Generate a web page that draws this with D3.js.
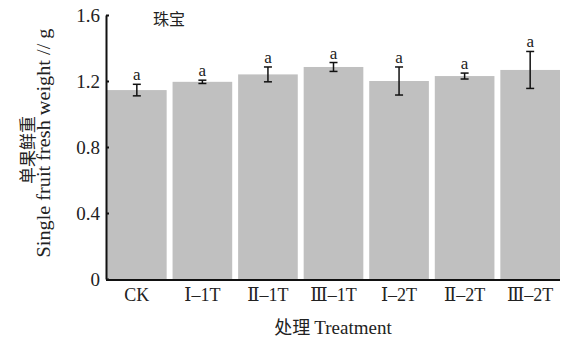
<!DOCTYPE html>
<html>
<head>
<meta charset="utf-8">
<script src="https://cdnjs.cloudflare.com/ajax/libs/d3/7.8.5/d3.min.js"></script>
<style>
  body { margin: 0; background: #fff; }
  text { fill: #222; }
</style>
</head>
<body>
<script>
//------------------------------------------------------------------------------
// Data
//------------------------------------------------------------------------------

var categories = ["CK", "\u2160\u20131T", "\u2161\u20131T", "\u2162\u20131T", "\u2160\u20132T", "\u2161\u20132T", "\u2162\u20132T"];
var means      = [1.145, 1.195, 1.24, 1.285, 1.20, 1.23, 1.267];
var errors     = [0.035, 0.010, 0.045, 0.027, 0.085, 0.018, 0.112];
var letters    = ["a", "a", "a", "a", "a", "a", "a"];
var yTicks     = [0, 0.4, 0.8, 1.2, 1.6];

//------------------------------------------------------------------------------
// Layout
//------------------------------------------------------------------------------

var width = 563, height = 339;
var margin = {left: 106, right: 3, top: 15, bottom: 59};
var serif = "'Liberation Serif', 'DejaVu Serif', serif";
var cjk = "'Noto Sans CJK SC', sans-serif";

var svg = d3.select("body").append("svg")
  .attr("width", width)
  .attr("height", height);

var x = d3.scaleBand()
  .domain(categories)
  .range([margin.left + 1, width - margin.right])
  .paddingInner(0.09)
  .paddingOuter(0);

var y = d3.scaleLinear()
  .domain([0, 1.6])
  .range([height - margin.bottom - 1, margin.top]);

var g = svg.append("g");

// Bars
g.selectAll(".bar")
  .data(means)
  .enter().append("rect")
    .attr("class", "bar")
    .attr("x", function(d, i) { return x(categories[i]); })
    .attr("y", function(d) { return y(d); })
    .attr("width", x.bandwidth())
    .attr("height", function(d) { return y(0) - y(d); })
    .style("fill", "#c0c0c0");

// Error bars
var eb = g.selectAll(".err")
  .data(means)
  .enter().append("g")
    .attr("class", "err")
    .attr("transform", function(d, i) { return "translate(" + (x(categories[i]) + x.bandwidth() / 2) + ",0)"; })
    .style("stroke", "#111")
    .style("stroke-width", 1.5);

eb.append("line")
  .attr("y1", function(d, i) { return y(d + errors[i]); })
  .attr("y2", function(d, i) { return y(d - errors[i]); });
eb.append("line")
  .attr("x1", -4).attr("x2", 4)
  .attr("y1", function(d, i) { return y(d + errors[i]); })
  .attr("y2", function(d, i) { return y(d + errors[i]); });
eb.append("line")
  .attr("x1", -4).attr("x2", 4)
  .attr("y1", function(d, i) { return y(d - errors[i]); })
  .attr("y2", function(d, i) { return y(d - errors[i]); });

// Significance letters
g.selectAll(".sig")
  .data(means)
  .enter().append("text")
    .attr("class", "sig")
    .attr("x", function(d, i) { return x(categories[i]) + x.bandwidth() / 2; })
    .attr("y", function(d, i) { return y(d + errors[i]) - 4; })
    .attr("text-anchor", "middle")
    .style("font-family", serif)
    .style("font-size", "17px")
    .text(function(d, i) { return letters[i]; });

// Y axis
var yAxis = d3.axisLeft(y)
  .tickValues(yTicks)
  .tickSizeInner(-3)
  .tickSizeOuter(0)
  .tickPadding(6)
  .tickFormat(function(d) { return d === 0 ? "0" : d3.format(".1f")(d); });

svg.append("g")
  .attr("transform", "translate(" + margin.left + ",0)")
  .call(yAxis)
  .call(function(a) {
    a.select(".domain").style("stroke", "#111").style("stroke-width", 2);
    a.selectAll(".tick line").style("stroke", "#111").style("stroke-width", 2);
    a.selectAll(".tick text")
      .style("font-family", serif)
      .style("font-size", "19px")
      .style("fill", "#222");
  });

// X axis
var xAxis = d3.axisBottom(x)
  .tickSize(0)
  .tickPadding(8);

svg.append("g")
  .attr("transform", "translate(0," + (height - margin.bottom) + ")")
  .call(xAxis)
  .call(function(a) {
    a.select(".domain").attr("d", "M" + margin.left + ",0H" + (width - margin.right)).style("stroke", "#111").style("stroke-width", 2);
    a.selectAll(".tick text")
      .style("font-family", serif)
      .style("font-size", "18px")
      .style("fill", "#222");
  });

// Titles
svg.append("text")
  .attr("x", 169).attr("y", 25)
  .attr("text-anchor", "middle")
  .style("font-family", cjk)
  .style("font-size", "16px")
  .text("珠宝");

svg.append("text")
  .attr("x", 333).attr("y", 334)
  .attr("text-anchor", "middle")
  .style("font-family", serif)
  .style("font-size", "19px")
  .call(function(t) {
    t.append("tspan").style("font-family", cjk).style("font-size", "18px").text("处理 ");
    t.append("tspan").text("Treatment");
  });

svg.append("text")
  .attr("transform", "translate(34,150) rotate(-90)")
  .attr("text-anchor", "middle")
  .style("font-family", cjk)
  .style("font-size", "17px")
  .text("单果鲜重");

svg.append("text")
  .attr("transform", "translate(50,143) rotate(-90)")
  .attr("text-anchor", "middle")
  .attr("textLength", 229)
  .attr("lengthAdjust", "spacingAndGlyphs")
  .style("font-family", serif)
  .style("font-size", "18px")
  .text("Single fruit fresh weight // g");
</script>
</body>
</html>
